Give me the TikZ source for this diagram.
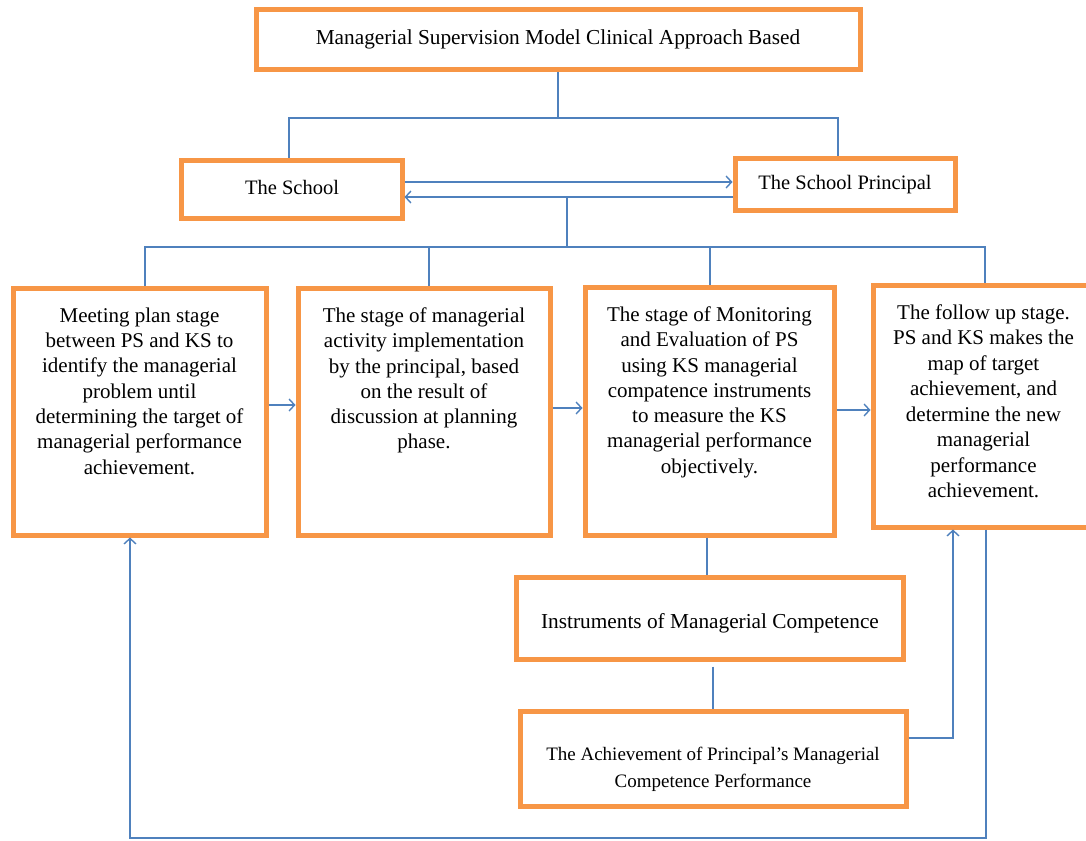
\documentclass[tikz,border=0pt]{standalone}
\usepackage{fontspec}
\setmainfont{Liberation Serif}
\usetikzlibrary{arrows.meta,calc}
\definecolor{borange}{HTML}{F79646}
\definecolor{lblue}{HTML}{4F81BD}
\begin{document}
\begin{tikzpicture}[x=1pt,y=-1pt,
  box/.style={draw=borange,line width=5pt,fill=white,rectangle,inner sep=0pt},
  txt/.style={inner sep=0pt,align=center,text=black},
  stagetxt/.style={txt,anchor=north,font=\fontsize{21}{25.3}\selectfont},
  link/.style={draw=lblue,line width=1.4pt},
  arr/.style={link,-{Straight Barb[length=5.5pt,width=12pt,line width=1.4pt]}}]
\useasboundingbox (0,0) rectangle (1086,840);
\fill[white] (0,0) rectangle (1086,840);

% boxes
\node[box,minimum width=604pt,minimum height=60pt] (title) at (558,40) {};
\node[box,minimum width=221pt,minimum height=58pt] (school) at (291.5,189) {};
\node[box,minimum width=220pt,minimum height=52pt] (principal) at (845,184) {};
\node[box,minimum width=253pt,minimum height=247pt] (b1) at (139.5,411.5) {};
\node[box,minimum width=252pt,minimum height=247pt] (b2) at (424,411.5) {};
\node[box,minimum width=249pt,minimum height=248pt] (b3) at (709.5,411) {};
\node[box,minimum width=215pt,minimum height=242pt] (b4) at (980.5,406) {};
\node[box,minimum width=387pt,minimum height=82pt] (instr) at (709.5,618) {};
\node[box,minimum width=386pt,minimum height=95pt] (ach) at (713,758.5) {};

% texts
\node[txt,font=\fontsize{21.3}{24}\selectfont] (titlet) at (558,39.5) {Managerial Supervision Model Clinical Approach Based};
\node[txt,font=\fontsize{20.5}{24}\selectfont] (schoolt) at (292,187) {The School};
\node[txt,font=\fontsize{20.5}{24}\selectfont] (principalt) at (845,185) {The School Principal};
\node[stagetxt] (b1t) at ([yshift=-22pt]b1.north) {Meeting plan stage\\between PS and KS to\\identify the managerial\\problem until\\determining the target of\\managerial performance\\achievement.};
\node[stagetxt] (b2t) at ([yshift=-22pt]b2.north) {The stage of managerial\\activity implementation\\by the principal, based\\on the result of\\discussion at planning\\phase.};
\node[stagetxt] (b3t) at ([yshift=-22pt]b3.north) {The stage of Monitoring\\and Evaluation of PS\\using KS managerial\\compatence instruments\\to measure the KS\\managerial performance\\objectively.};
\node[stagetxt,font=\fontsize{21}{25.5}\selectfont] (b4t) at ([xshift=3pt,yshift=-22pt]b4.north) {The follow up stage.\\PS and KS makes the\\map of target\\achievement, and\\determine the new\\managerial\\performance\\achievement.};
\node[txt,font=\fontsize{21.3}{24}\selectfont] (instrt) at (710,623) {Instruments of Managerial Competence};
\node[txt,font=\fontsize{19}{27}\selectfont] (acht) at (713,769) {The Achievement of Principal's Managerial\\Competence Performance};

% connectors top
\coordinate (hub1) at (558,118);
\draw[link] (title.south) -- (hub1);
\draw[link] ([xshift=-2.5pt]school.north) |- (hub1) -| ([xshift=-7pt]principal.north);
\draw[arr] (school.east |- 0,182) -- (principal.west |- 0,182);
\draw[arr] (principal.west |- 0,197) -- (school.east |- 0,197);
\coordinate (hub2) at (567,197);
\coordinate (bus) at (567,247);
\draw[link] (hub2) -- (bus);
\draw[link] ([xshift=5.5pt]b1.north) |- (bus) -| ([xshift=4.5pt]b4.north);
\draw[link] (bus -| b2.north) ++(5pt,0) -- ([xshift=5pt]b2.north);
\draw[link] (bus -| b3.north) ++(0.5pt,0) -- ([xshift=0.5pt]b3.north);

% stage arrows
\draw[arr] (b1.east |- 0,405) -- (b2.west |- 0,405);
\draw[arr] (b2.east |- 0,408) -- (b3.west |- 0,408);
\draw[arr] (b3.east |- 0,410) -- (b4.west |- 0,410);

% lower chain
\draw[link] ([xshift=-2.5pt]b3.south) -- ([xshift=-2.5pt]b3.south |- instr.north);
\draw[link] ([yshift=-5pt]instr.south -| ach.north) -- (ach.north);
\draw[arr] (ach.east |- 0,738) -| ([xshift=-27.5pt]b4.south);

% feedback loop
\coordinate (fbl) at (130,838);
\draw[arr] ([xshift=5.5pt]b4.south) |- (fbl) -- (b1.south -| fbl);
\end{tikzpicture}
\end{document}
